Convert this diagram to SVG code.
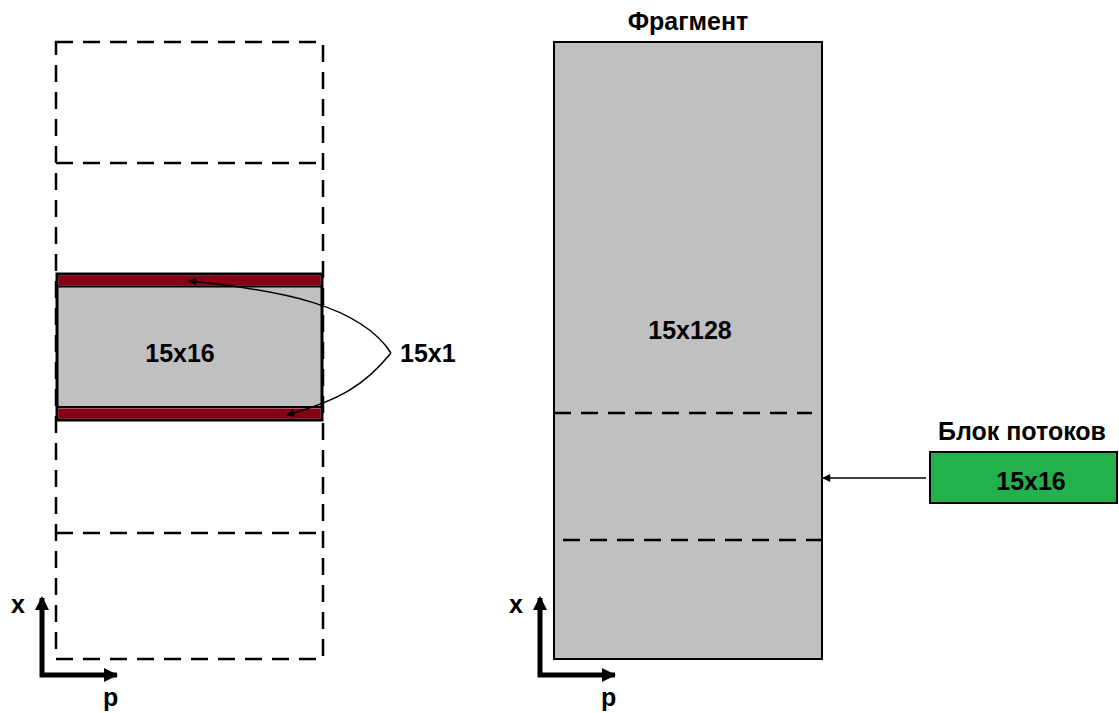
<svg xmlns="http://www.w3.org/2000/svg" width="1119" height="713" viewBox="0 0 1119 713">
  <defs>
    <style>
      .lbl { font-family: "Liberation Sans", Arial, sans-serif; font-weight: bold; font-size: 25px; fill: #000; }
      .dash { fill: none; stroke: #000; stroke-width: 2.5; stroke-dasharray: 17 10; }
      .axis { fill: none; stroke: #000; stroke-width: 5; }
      .thin { fill: none; stroke: #000; stroke-width: 1.5; }
    </style>
    <marker id="thinhead" viewBox="0 0 10 10" refX="9" refY="5" markerWidth="9" markerHeight="8" orient="auto" markerUnits="userSpaceOnUse">
      <path d="M0,0 L10,5 L0,10 z" fill="#000"/>
    </marker>
  </defs>

  <!-- left column: blocks along x -->
  <g id="left-column">
    <rect class="dash" x="56" y="42" width="267" height="617"/>
    <line class="dash" x1="56" y1="163" x2="323" y2="163"/>
    <line class="dash" x1="56" y1="533" x2="323" y2="533"/>
  </g>

  <g id="block-15x16">
    <rect x="57" y="274" width="265" height="146" fill="#c0c0c0" stroke="#000" stroke-width="3"/>
    <rect x="58.5" y="275.5" width="262" height="10" fill="#880015"/>
    <line x1="57" y1="286.5" x2="322" y2="286.5" stroke="#000" stroke-width="2"/>
    <rect x="58.5" y="408.5" width="262" height="10" fill="#880015"/>
    <line x1="57" y1="407" x2="322" y2="407" stroke="#000" stroke-width="2"/>
    <text class="lbl" x="180" y="362" text-anchor="middle">15x16</text>
  </g>

  <g id="label-15x1">
    <text class="lbl" x="400" y="362">15x1</text>
  </g>

  <!-- right column: fragment -->
  <g id="fragment">
    <text class="lbl" x="688" y="30" text-anchor="middle">Фрагмент</text>
    <rect x="554" y="42" width="268" height="617" fill="#c0c0c0" stroke="#000" stroke-width="2"/>
    <line class="dash" x1="554" y1="413" x2="812" y2="413"/>
    <line class="dash" x1="563" y1="540" x2="822" y2="540"/>
    <text class="lbl" x="690" y="339" text-anchor="middle">15x128</text>
  </g>

  <g id="thread-block">
    <text class="lbl" x="1022" y="440" text-anchor="middle">Блок потоков</text>
    <rect x="930" y="452" width="187" height="51" fill="#22b14c" stroke="#000" stroke-width="2"/>
    <text class="lbl" x="1031" y="490" text-anchor="middle">15x16</text>
  </g>

  <!-- axes -->
  <g id="axes-left">
    <polyline class="axis" points="42,598 42,675 117,675"/>
    <path d="M42,596 L35,610 L49,610 z" fill="#000"/>
    <path d="M118,675 L104,668 L104,682 z" fill="#000"/>
    <text class="lbl" x="11" y="613">x</text>
    <text class="lbl" x="103" y="706">p</text>
  </g>
  <g id="axes-right">
    <polyline class="axis" points="540,598 540,675 615,675"/>
    <path d="M540,596 L533,610 L547,610 z" fill="#000"/>
    <path d="M616,675 L602,668 L602,682 z" fill="#000"/>
    <text class="lbl" x="509" y="613">x</text>
    <text class="lbl" x="601" y="706">p</text>
  </g>

  <!-- connectors -->
  <g id="connectors">
    <path class="thin" d="M391,353 C360,305 280,290 189,281" marker-end="url(#thinhead)"/>
    <path class="thin" d="M391,353 C365,385 340,400 287,415" marker-end="url(#thinhead)"/>
    <line class="thin" x1="926" y1="478" x2="823" y2="478" marker-end="url(#thinhead)"/>
  </g>
</svg>
